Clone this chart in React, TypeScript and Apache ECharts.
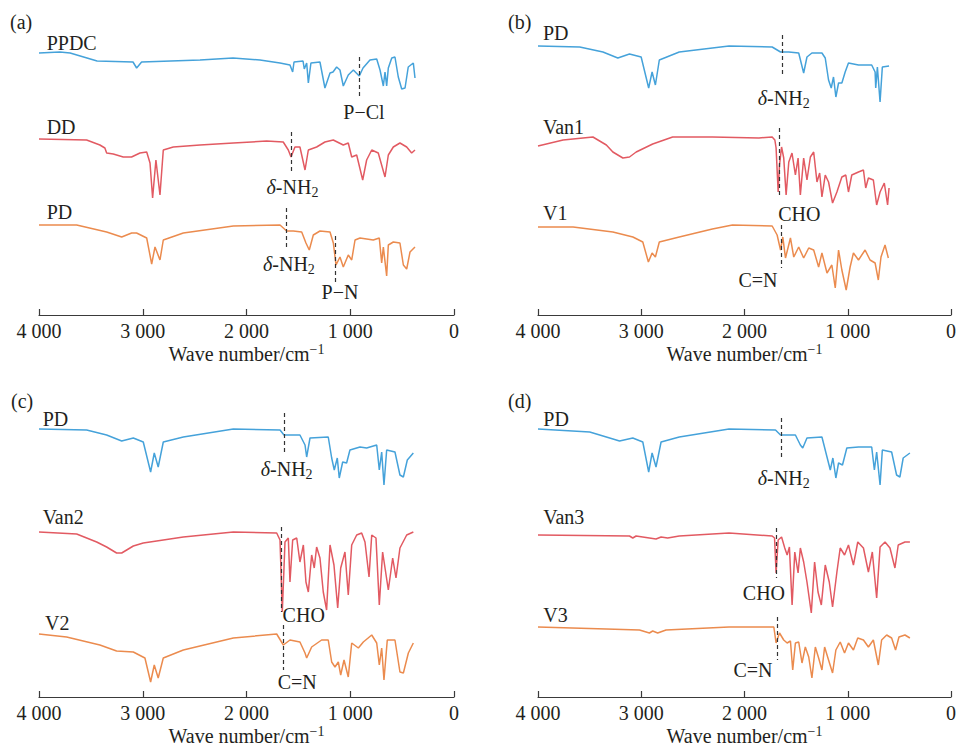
import React, { useEffect, useRef } from "react";
import * as echarts from "echarts";

// ---------- data (wavenumber cm-1, relative transmittance offset) ----------
const xTicks = [4000, 3000, 2000, 1000, 0];

// panel (a)
const ppdcA = [[4000,262],[3800,263],[3700,262],[3440,254],[3094,253],[3059,247],[3011,253],[2448,255],[2130,257],[1870,255],[1677,252],[1581,250],[1555,243],[1542,253],[1455,254],[1443,246],[1420,252],[1404,232],[1379,252],[1292,253],[1244,227],[1195,242],[1166,243],[1131,248],[1099,245],[1067,229],[1019,240],[970,245],[913,239],[877,247],[810,255],[745,256],[713,245],[681,229],[665,243],[649,229],[633,247],[600,257],[569,258],[537,238],[504,226],[472,227],[441,248],[392,252],[376,237]];
const ddA = [[4000,176],[3541,175],[3413,170],[3365,167],[3348,162],[3284,161],[3188,158],[3108,158],[3027,162],[2962,163],[2930,152],[2905,117],[2873,155],[2834,120],[2802,165],[2706,168],[2448,170],[2127,172],[1806,174],[1646,173],[1597,165],[1571,158],[1533,168],[1485,168],[1436,145],[1404,165],[1324,168],[1244,173],[1164,175],[1067,170],[1019,172],[986,158],[938,160],[880,135],[842,155],[793,165],[730,162],[665,138],[633,160],[585,168],[521,172],[456,168],[408,162],[376,165]];
const pdA = [[4000,90],[3637,90],[3348,83],[3203,78],[3107,82],[3059,82],[2962,77],[2914,51],[2882,68],[2834,55],[2802,75],[2609,82],[2127,89],[1677,90],[1613,84],[1549,84],[1468,83],[1427,72],[1395,65],[1356,80],[1292,84],[1195,83],[1163,72],[1137,50],[1099,58],[1067,48],[1019,60],[986,55],[954,75],[906,77],[778,75],[720,77],[697,52],[681,68],[649,39],[633,70],[585,73],[521,72],[488,50],[456,46],[424,63],[376,68]];

// panel (b)
const pdB = [[4000,269],[3596,268],[3371,263],[3227,257],[3114,261],[3001,258],[2928,227],[2895,243],[2863,230],[2825,255],[2632,263],[2311,267],[2150,269],[1732,268],[1651,263],[1571,263],[1475,262],[1427,242],[1395,258],[1347,262],[1250,262],[1218,257],[1186,235],[1160,227],[1138,238],[1115,218],[1089,232],[1057,232],[1025,243],[993,252],[896,250],[768,250],[735,243],[729,227],[713,248],[687,213],[665,248],[600,249]];
const van1B = [[4000,169],[3757,175],[3468,178],[3338,170],[3275,163],[3178,157],[3114,158],[3049,163],[2889,171],[2696,178],[2311,178],[1860,177],[1732,178],[1706,175],[1694,167],[1674,123],[1661,150],[1641,168],[1620,157],[1597,120],[1571,153],[1540,162],[1507,140],[1481,157],[1459,120],[1427,157],[1395,135],[1362,158],[1330,163],[1298,133],[1272,142],[1250,118],[1218,140],[1186,133],[1147,112],[1105,123],[1057,138],[1019,140],[993,123],[961,140],[896,143],[848,145],[826,127],[800,137],[752,135],[720,110],[687,123],[646,132],[614,110],[600,127]];
const v1B = [[4000,88],[3660,88],[3275,83],[3081,78],[2985,73],[2931,53],[2895,62],[2863,58],[2825,73],[2632,78],[2311,86],[2117,90],[1732,89],[1684,80],[1651,65],[1629,78],[1603,57],[1555,77],[1523,58],[1475,68],[1427,57],[1378,67],[1330,65],[1282,48],[1250,62],[1201,42],[1154,50],[1121,27],[1089,65],[1057,45],[1015,25],[977,48],[945,62],[896,55],[832,65],[784,55],[735,52],[704,35],[678,58],[639,70],[607,57]];

// panel (c)
const pdC = [[4000,268],[3541,267],[3348,262],[3203,256],[3091,259],[2995,255],[2924,225],[2889,244],[2851,230],[2802,255],[2609,260],[2127,268],[1677,267],[1639,262],[1485,262],[1436,252],[1420,240],[1388,259],[1212,260],[1179,239],[1154,227],[1125,239],[1106,219],[1073,235],[1035,234],[1003,247],[906,250],[842,249],[745,252],[720,227],[697,245],[675,212],[649,247],[569,245],[521,222],[488,220],[450,237],[392,244]];
const van2C = [[4000,165],[3637,163],[3444,155],[3348,150],[3252,144],[3203,144],[3155,147],[3091,151],[2995,154],[2866,156],[2609,160],[2127,165],[1709,164],[1677,157],[1655,85],[1629,155],[1597,159],[1581,115],[1555,157],[1516,159],[1485,135],[1452,152],[1427,115],[1404,105],[1372,142],[1347,129],[1324,150],[1292,139],[1260,105],[1228,87],[1195,152],[1157,132],[1121,89],[1092,129],[1051,145],[1019,102],[986,152],[938,162],[890,164],[858,155],[819,120],[793,162],[752,159],[720,92],[688,145],[633,107],[591,139],[559,119],[521,149],[456,162],[392,165]];
const v2C = [[4000,63],[3734,60],[3413,52],[3252,46],[3091,45],[2979,39],[2924,15],[2889,32],[2851,19],[2802,39],[2609,47],[2127,59],[1709,63],[1645,52],[1581,57],[1485,55],[1436,44],[1420,39],[1372,50],[1276,57],[1212,57],[1179,35],[1147,30],[1115,35],[1092,22],[1060,37],[1019,20],[986,54],[922,49],[874,55],[793,62],[745,54],[720,32],[697,49],[675,17],[643,57],[569,57],[521,25],[488,24],[440,44],[392,54]];

// panel (d)
const pdD = [[4000,268],[3499,265],[3338,260],[3210,256],[3082,259],[2985,255],[2928,225],[2895,244],[2857,230],[2808,255],[2632,260],[2150,268],[1700,267],[1651,262],[1507,262],[1459,252],[1436,249],[1395,259],[1250,260],[1201,240],[1169,227],[1144,239],[1115,219],[1089,234],[1051,232],[1009,249],[896,250],[768,250],[742,227],[720,245],[687,212],[665,247],[575,245],[527,222],[495,220],[463,239],[398,244]];
const van3D = [[4000,162],[3114,161],[3082,159],[3050,161],[2857,158],[2808,160],[2744,159],[2632,161],[2150,164],[1732,161],[1709,159],[1694,124],[1674,157],[1641,160],[1610,149],[1587,142],[1565,150],[1539,92],[1513,145],[1481,124],[1459,149],[1427,135],[1395,115],[1353,84],[1321,135],[1288,105],[1256,92],[1218,132],[1179,115],[1147,90],[1105,125],[1073,149],[1031,142],[993,152],[945,132],[903,155],[848,149],[800,125],[762,145],[720,99],[687,150],[639,155],[591,149],[543,129],[511,152],[446,155],[398,155]];
const v3D = [[4000,70],[3338,68],[3017,67],[2921,64],[2889,66],[2841,64],[2760,67],[2150,70],[1732,70],[1716,70],[1694,54],[1661,64],[1620,57],[1587,54],[1555,56],[1533,27],[1507,54],[1475,55],[1443,34],[1411,50],[1378,40],[1347,19],[1314,50],[1282,39],[1250,27],[1224,50],[1186,37],[1147,24],[1115,47],[1073,55],[1031,44],[993,54],[945,47],[903,59],[848,57],[800,50],[752,57],[704,32],[672,57],[623,62],[575,59],[537,47],[504,60],[446,62],[398,59]];

// band markers: [wavenumber, y from, y to]
const bandsA = [[913,258,217],[1571,183,142],[1613,107,65],[1140,79,33]];
const bandsB = [[1636,280,238],[1661,187,118],[1648,90,47]];
const bandsC = [[1639,284,242],[1661,170,85],[1645,72,27]];
const bandsD = [[1642,279,237],[1694,169,119],[1684,80,37]];

// text labels: [text, wavenumber, y, align]
const labelsA = [["PPDC",3926,272,"left"],["DD",3926,188,"left"],["PD",3926,103,"left"],["{n|P−Cl}",868,203,"center"],["{i|δ}{n|-NH}{s|2}",1557,128,"center"],["{i|δ}{n|-NH}{s|2}",1591,51,"center"],["{n|P−N}",1099,23,"center"]];
const labelsB = [["PD",3952,282,"left"],["Van1",3952,188,"left"],["V1",3952,102,"left"],["{i|δ}{n|-NH}{s|2}",1620,217,"center"],["{n|CHO}",1674,101,"left"],["{n|C=N}",1870,35,"center"]];
const labelsC = [["PD",3965,278,"left"],["Van2",3965,180,"left"],["V2",3942,74,"left"],["{i|δ}{n|-NH}{s|2}",1613,228,"center"],["{n|CHO}",1652,82,"left"],["{n|C=N}",1511,15,"center"]];
const labelsD = [["PD",3949,278,"left"],["Van3",3949,180,"left"],["V3",3949,82,"left"],["{i|δ}{n|-NH}{s|2}",1620,219,"center"],["{n|CHO}",1812,104,"center"],["{n|C=N}",1918,27,"center"]];

const panelLetters = ["(a)", "(b)", "(c)", "(d)"];

// ---------- styling ----------
const FONT = "Liberation Serif, Times New Roman, serif";
const TXT = "#231f20";
const BLUE = "#45a2da";
const RED = "#e25a62";
const ORANGE = "#eb8b4e";
const AXIS = "#3a3a3a";

const rich = {
  n: { fontFamily: FONT, fontSize: 20, color: TXT, lineHeight: 24 },
  i: { fontFamily: FONT, fontSize: 20, color: TXT, fontStyle: "italic", lineHeight: 24 },
  s: { fontFamily: FONT, fontSize: 14, color: TXT, verticalAlign: "bottom", lineHeight: 14 },
  a: { fontFamily: FONT, fontSize: 20, color: TXT, lineHeight: 24 },
  sup: { fontFamily: FONT, fontSize: 14, color: TXT, verticalAlign: "top", lineHeight: 12 },
};

const grids = [
  { left: 39, top: 25, width: 415, height: 290 },
  { left: 538, top: 25, width: 415, height: 290 },
  { left: 39, top: 407, width: 415, height: 290 },
  { left: 538, top: 407, width: 415, height: 290 },
];

function makeX(gi: number) {
  return {
    type: "value",
    gridIndex: gi,
    min: 0,
    max: 4000,
    interval: 1000,
    inverse: true,
    axisLine: { lineStyle: { color: AXIS, width: 1.2 } },
    axisTick: { inside: true, length: 6, lineStyle: { color: AXIS, width: 1.2 } },
    axisLabel: {
      margin: 6,
      fontFamily: FONT,
      fontSize: 20,
      color: TXT,
      showMinLabel: true,
      showMaxLabel: true,
      formatter: (v: number) => (xTicks.includes(v) && v !== 0 ? `${v / 1000} 000` : "0"),
    },
    splitLine: { show: false },
    name: "{a|Wave number/cm}{sup|−1}",
    nameLocation: "middle",
    nameGap: 27,
    nameTextStyle: { fontFamily: FONT, rich },
  };
}

function makeY(gi: number) {
  return { type: "value", gridIndex: gi, min: 0, max: 290, show: false };
}

function trace(data: number[][], color: string, gi: number, extra: any = {}) {
  return {
    type: "line",
    xAxisIndex: gi,
    yAxisIndex: gi,
    data,
    showSymbol: false,
    symbol: "none",
    silent: true,
    lineStyle: { color, width: 1.5 },
    itemStyle: { color },
    z: 2,
    ...extra,
  };
}

function annotations(bands: number[][], labels: any[]) {
  return {
    markLine: {
      silent: true,
      symbol: ["none", "none"],
      animation: false,
      lineStyle: { type: [4, 3], color: "#333333", width: 1.2 },
      label: { show: false },
      data: bands.map(([w, y1, y2]) => [{ coord: [w, y1] }, { coord: [w, y2] }]),
    },
    markPoint: {
      silent: true,
      animation: false,
      symbol: "rect",
      symbolSize: 1,
      itemStyle: { color: "rgba(0,0,0,0)" },
      data: labels.map(([t, w, y, al]) => ({
        coord: [w, y],
        label: {
          show: true,
          position: "inside",
          align: al,
          verticalAlign: "middle",
          fontFamily: FONT,
          formatter: t.startsWith("{") ? t : `{n|${t}}`,
          rich,
        },
      })),
    },
  };
}

export default function App() {
  const ref = useRef<HTMLDivElement>(null);
  useEffect(() => {
    if (!ref.current) return;
    const chart = echarts.init(ref.current, undefined, { renderer: "svg" });
    const letterPos = [
      [10, 12],
      [508, 12],
      [11, 391],
      [508, 391],
    ];
    chart.setOption({
      animation: false,
      backgroundColor: "#ffffff",
      textStyle: { fontFamily: FONT },
      grid: grids,
      xAxis: [0, 1, 2, 3].map(makeX),
      yAxis: [0, 1, 2, 3].map(makeY),
      graphic: panelLetters.map((t, i) => ({
        type: "text",
        left: letterPos[i][0],
        top: letterPos[i][1],
        style: { text: t, fontFamily: FONT, fontSize: 20, fill: TXT },
      })),
      series: [
        trace(ppdcA, BLUE, 0, annotations(bandsA, labelsA)),
        trace(ddA, RED, 0),
        trace(pdA, ORANGE, 0),
        trace(pdB, BLUE, 1, annotations(bandsB, labelsB)),
        trace(van1B, RED, 1),
        trace(v1B, ORANGE, 1),
        trace(pdC, BLUE, 2, annotations(bandsC, labelsC)),
        trace(van2C, RED, 2),
        trace(v2C, ORANGE, 2),
        trace(pdD, BLUE, 3, annotations(bandsD, labelsD)),
        trace(van3D, RED, 3),
        trace(v3D, ORANGE, 3),
      ],
    });
    return () => chart.dispose();
  }, []);
  return (
    <div
      ref={ref}
      style={{ position: "absolute", left: 0, top: 0, width: 959, height: 748 }}
    />
  );
}
